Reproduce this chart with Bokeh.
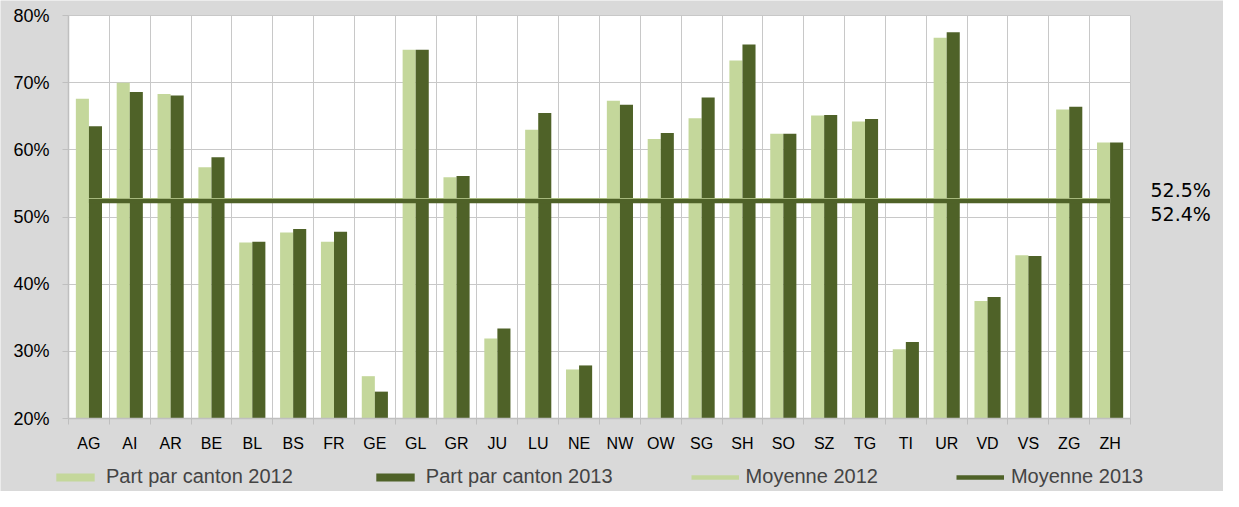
import numpy as np
from bokeh.plotting import figure
from bokeh.models import (ColumnDataSource, Range1d, FixedTicker, Legend, LegendItem,
                          Label, PrintfTickFormatter)
from bokeh.transform import dodge
from bokeh.embed import file_html
from bokeh.resources import INLINE

cantons = ["AG", "AI", "AR", "BE", "BL", "BS", "FR", "GE", "GL", "GR", "JU", "LU", "NE",
           "NW", "OW", "SG", "SH", "SO", "SZ", "TG", "TI", "UR", "VD", "VS", "ZG", "ZH"]
share_2012 = [67.6, 70.0, 68.3, 57.4, 46.2, 47.7, 46.3, 26.3, 74.9, 55.9, 31.9, 63.0, 27.3,
              67.3, 61.6, 64.7, 73.3, 62.4, 65.1, 64.2, 30.3, 76.7, 37.5, 44.3, 66.0, 61.1]
share_2013 = [63.5, 68.6, 68.1, 58.9, 46.3, 48.2, 47.8, 24.0, 74.9, 56.1, 33.4, 65.5, 27.9,
              66.7, 62.5, 67.8, 75.7, 62.4, 65.2, 64.6, 31.4, 77.5, 38.1, 44.2, 66.4, 61.1]
mean_2012 = 52.5
mean_2013 = 52.4
y_ticks = [20, 30, 40, 50, 60, 70, 80]

LIGHT = "#c4d79b"
DARK = "#4f6228"
GRID = "#c8c8c8"
AXIS = "#bfbfbf"
BG = "#d9d9d9"

# canvas and plot-area geometry (pixels)
W, H = 1223, 491
LEFT, RIGHT, TOP, BOT = 68, 1130, 15, 418

n = len(cantons)
y0, y1 = y_ticks[0], y_ticks[-1]
centers = [i + 0.5 for i in range(n)]
bounds = list(range(n + 1))
src = ColumnDataSource(dict(x=centers, s12=share_2012, s13=share_2013,
                            m12=[mean_2012] * n, m13=[mean_2013] * n))

xs = n / (RIGHT - LEFT)
ys = (y1 - y0) / (BOT - TOP)
x_range = Range1d(-LEFT * xs, (W - LEFT) * xs)
y_range = Range1d(y0 - (H - BOT) * ys, y1 + TOP * ys)

p = figure(width=W, height=H, x_range=x_range, y_range=y_range,
           output_backend="svg", toolbar_location=None, min_border=0)
p.background_fill_color = BG
p.border_fill_color = BG
p.outline_line_color = None

# white plot area
p.quad(left=[0], right=[n], bottom=[y0], top=[y1],
       fill_color="white", line_color=None, level="underlay")

r12 = p.vbar(x=dodge('x', -0.16, range=p.x_range), width=0.32, top='s12', bottom=y0,
             source=src, fill_color=LIGHT, line_color=None)
r13 = p.vbar(x=dodge('x', 0.16, range=p.x_range), width=0.32, top='s13', bottom=y0,
             source=src, fill_color=DARK, line_color=None)
l12 = p.line('x', 'm12', source=src, line_color=LIGHT, line_width=4.5)
l13 = p.line('x', 'm13', source=src, line_color=DARK, line_width=4.5)

# axes
p.yaxis.fixed_location = 0
p.yaxis.bounds = (y0, y1)
p.yaxis.ticker = FixedTicker(ticks=y_ticks)
p.yaxis.formatter = PrintfTickFormatter(format="%d%%")
p.yaxis.major_label_text_font = "Liberation Sans"
p.yaxis.major_label_text_font_size = "18px"
p.yaxis.major_label_text_color = "#000000"
p.yaxis.major_tick_out = 6
p.yaxis.major_tick_in = 0
p.yaxis.minor_tick_line_color = None
p.yaxis.major_tick_line_color = AXIS
p.yaxis.axis_line_color = AXIS
p.yaxis.axis_line_width = 1.5
p.yaxis.major_label_standoff = 13

p.xaxis.fixed_location = y0
p.xaxis.bounds = (0, n)
p.xaxis.ticker = FixedTicker(ticks=centers, minor_ticks=bounds)
p.xaxis.major_label_overrides = {c: name for c, name in zip(centers, cantons)}
p.xaxis.major_label_text_font = "Liberation Sans"
p.xaxis.major_label_text_font_size = "16px"
p.xaxis.major_label_text_color = "#000000"
p.xaxis.major_tick_line_color = None
p.xaxis.major_tick_out = 0
p.xaxis.major_tick_in = 0
p.xaxis.minor_tick_line_color = AXIS
p.xaxis.minor_tick_out = 6
p.xaxis.minor_tick_in = 0
p.xaxis.axis_line_color = AXIS
p.xaxis.axis_line_width = 1.5
p.xaxis.major_label_standoff = 10

p.xgrid.ticker = FixedTicker(ticks=bounds)
p.xgrid.bounds = (0, n)
p.xgrid.cross_bounds = (y0, y1)
p.ygrid.ticker = FixedTicker(ticks=y_ticks)
p.ygrid.bounds = (y0, y1)
p.ygrid.cross_bounds = (0, n)
p.xgrid.grid_line_color = GRID
p.ygrid.grid_line_color = GRID

# right-side value labels
p.add_layout(Label(x=n, y=mean_2012, x_offset=20, y_offset=10, text=f"{mean_2012:.1f}%",
                   text_baseline="middle", text_font="DejaVu Sans", text_font_size="19px",
                   text_color="#000000"))
p.add_layout(Label(x=n, y=mean_2013, x_offset=20, y_offset=-13, text=f"{mean_2013:.1f}%",
                   text_baseline="middle", text_font="DejaVu Sans", text_font_size="19px",
                   text_color="#000000"))

legend = Legend(items=[LegendItem(label="Part par canton 2012", renderers=[r12]),
                       LegendItem(label="Part par canton 2013", renderers=[r13]),
                       LegendItem(label="Moyenne 2012", renderers=[l12]),
                       LegendItem(label="Moyenne 2013", renderers=[l13])],
                orientation="horizontal", location=(51, 3),
                glyph_width=48, glyph_height=10, label_standoff=7, spacing=78,
                padding=0, margin=0, background_fill_alpha=0, border_line_color=None,
                label_text_font="Liberation Sans", label_text_font_size="20px",
                label_height=20)
p.add_layout(legend, "center")

open("out.html", "w").write(file_html(p, INLINE))
